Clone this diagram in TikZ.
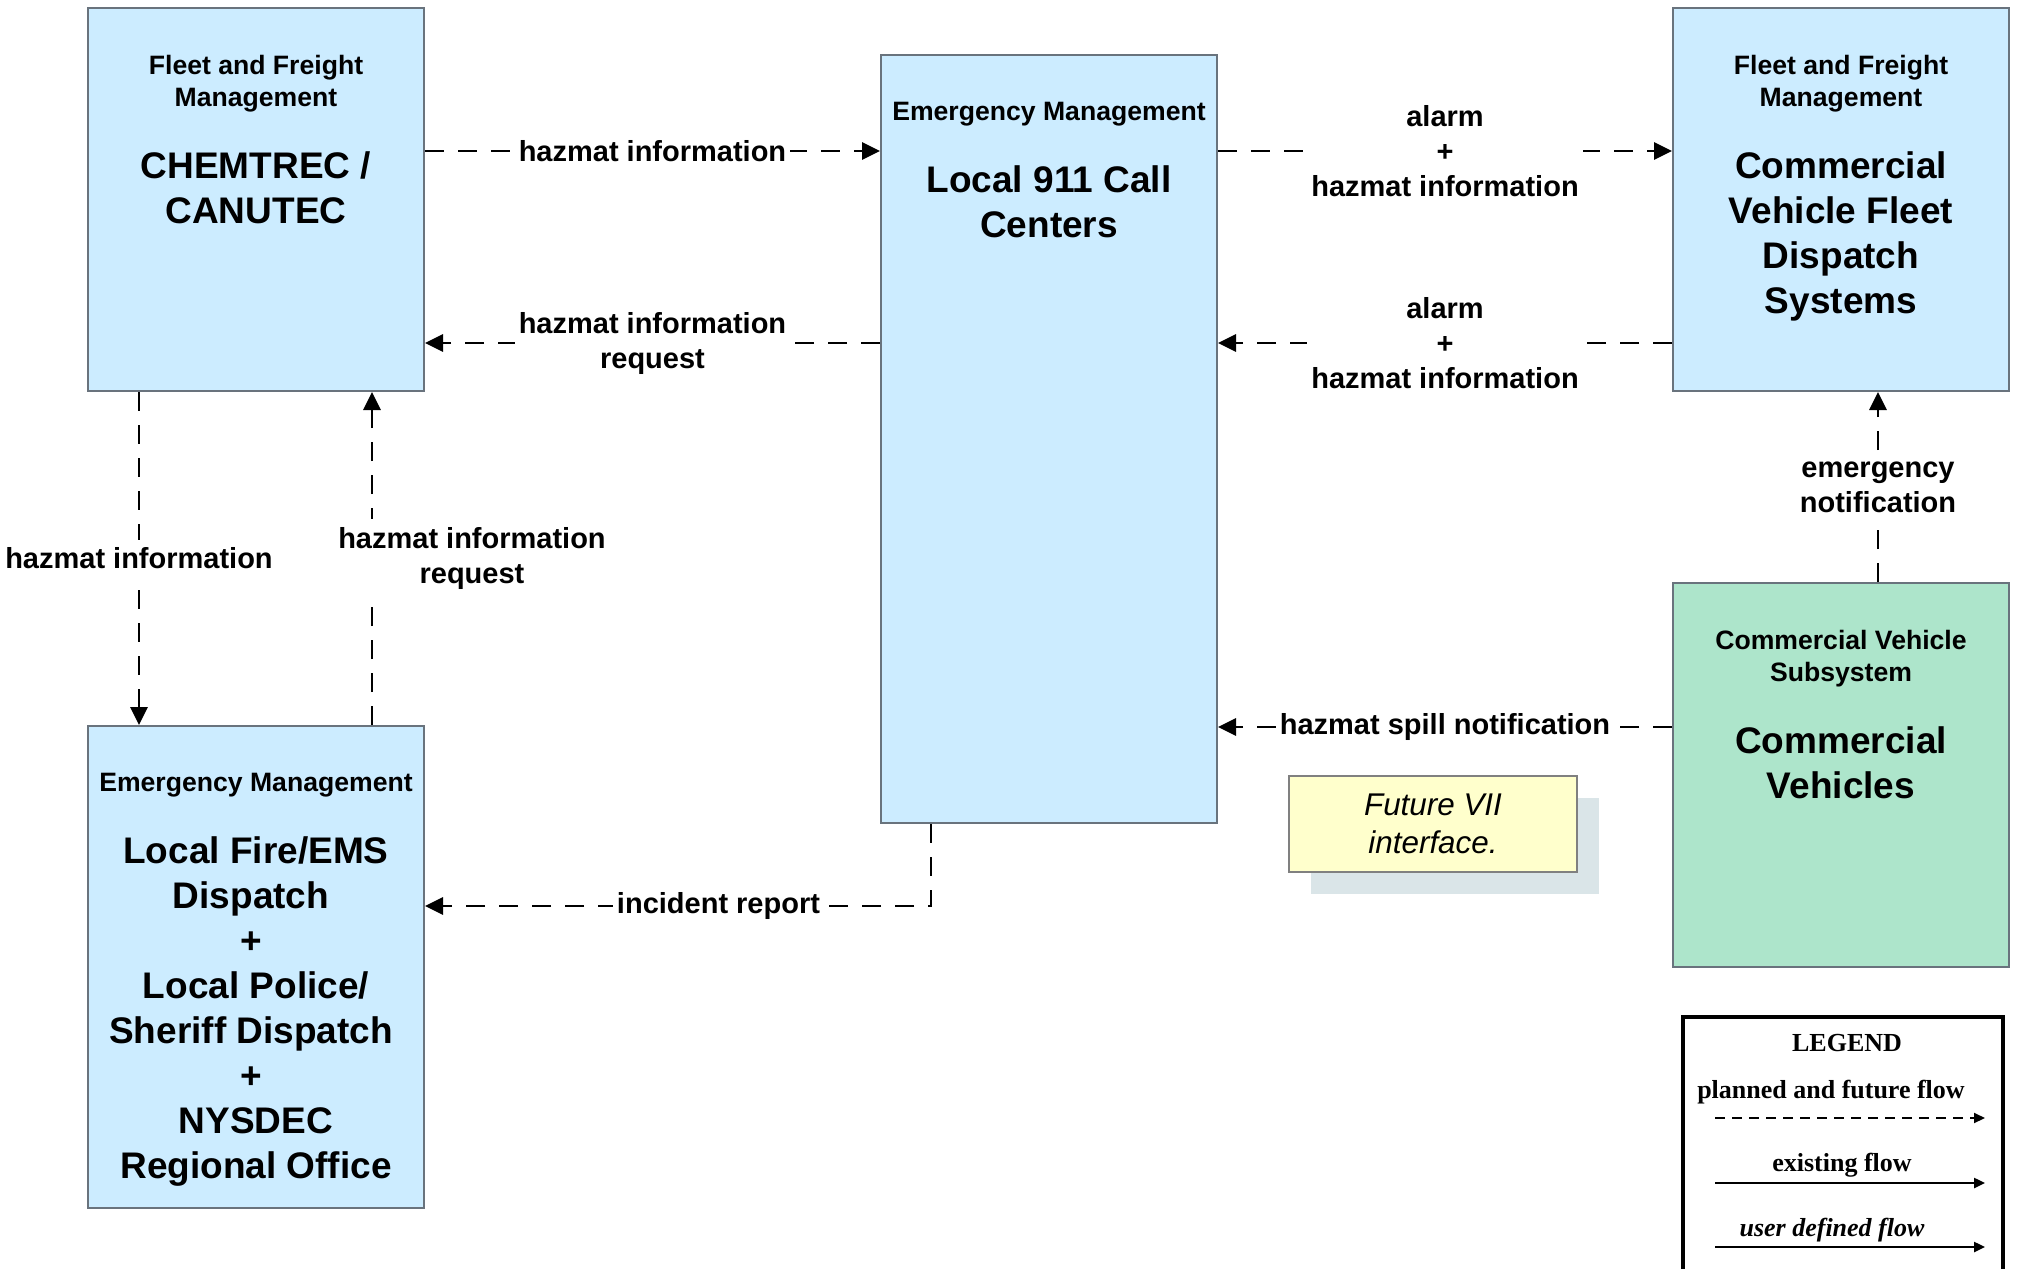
\documentclass[tikz,border=0pt]{standalone}
\usepackage{fontspec}
\setmainfont{Liberation Sans}
\newfontfamily\legendfont{Liberation Serif}
\usetikzlibrary{arrows.meta}
\usetikzlibrary{positioning}
\definecolor{boxblue}{RGB}{204,236,255}
\definecolor{boxgreen}{RGB}{173,229,203}
\definecolor{boxline}{RGB}{105,115,125}
\definecolor{noteyellow}{RGB}{255,255,204}
\definecolor{noteshade}{RGB}{218,229,232}

\begin{document}
\begin{tikzpicture}[x=0.5pt, y=-0.5pt,
		sysbox/.style = {draw=boxline, line width=1pt, fill=boxblue, anchor=north west, inner sep=0pt, minimum width=168pt},
		hdr/.style = {anchor=north, align=center, inner sep=0pt, font=\fontsize{13.3}{16}\selectfont\bfseries},
		ttl/.style = {align=center, inner sep=0pt, font=\fontsize{18.5}{22.5}\selectfont\bfseries},
		flow/.style = {line width=1.4pt, dash pattern=on 9.5pt off 7pt, -{Triangle[length=9pt, width=8.5pt]}},
		lbl/.style = {fill=white, align=center, inner xsep=2pt, inner ysep=4pt, font=\fontsize{14.5}{17.5}\selectfont\bfseries},
		notebox/.style = {anchor=north west, minimum width=144pt, minimum height=48pt, inner sep=0pt},
		legtxt/.style = {inner sep=0pt, font=\legendfont\fontsize{13}{15}\selectfont\bfseries}]
		\useasboundingbox (0,0) rectangle (2020,1269);

		\node[sysbox, minimum height=191.5pt] (chem) at (87,7) {};
		\node[hdr] (chemhdr) at ([yshift=-24pt]chem.north) {Fleet and Freight\\Management};
		\node[ttl, below=19.5pt of chemhdr] (chemttl) {CHEMTREC /\\CANUTEC};

		\node[sysbox, minimum height=384pt] (call) at (880,54) {};
		\node[hdr] (callhdr) at ([yshift=-24pt]call.north) {Emergency Management};
		\node[ttl, below=19.5pt of callhdr] (callttl) {Local 911 Call\\Centers};

		\node[sysbox, minimum height=191.5pt] (fleet) at (1672,7) {};
		\node[hdr] (fleethdr) at ([yshift=-24pt]fleet.north) {Fleet and Freight\\Management};
		\node[ttl, below=19.5pt of fleethdr] (fleetttl) {Commercial\\Vehicle Fleet\\Dispatch\\Systems};

		\node[sysbox, fill=boxgreen, minimum height=192pt] (cveh) at (1672,582) {};
		\node[hdr] (cvehhdr) at ([yshift=-24pt]cveh.north) {Commercial Vehicle\\Subsystem};
		\node[ttl, below=19.5pt of cvehhdr] (cvehttl) {Commercial\\Vehicles};

		\node[sysbox, minimum height=241pt] (fire) at (87,725) {};
		\node[hdr] (firehdr) at ([yshift=-24pt]fire.north) {Emergency Management};
		\node[ttl, below=19.5pt of firehdr] (firettl) {Local Fire/EMS\\Dispatch\kern5pt\\+\kern5pt\\Local Police/\\Sheriff Dispatch\kern5pt\\+\kern5pt\\NYSDEC\\Regional Office};

		\node[notebox, fill=noteshade] (shade) at (1311,798) {};
		\node[notebox, draw=gray, line width=1pt, fill=noteyellow, align=center, font=\fontsize{15.7}{19}\selectfont\itshape] (note) at (1288,775) {Future VII\\interface.};

		\coordinate (rowA) at (0,151);
		\coordinate (rowB) at (0,343);
		\coordinate (rowC) at (0,727);
		\coordinate (rowD) at (0,906);
		\coordinate (colA) at (139,0);
		\coordinate (colB) at (372,0);
		\coordinate (colC) at (931,0);
		\coordinate (colD) at (1878,0);

		\draw[flow] (chem.east |- rowA) -- node[lbl] (hazinfo) {hazmat information} (call.west |- rowA);
		\draw[flow] (call.west |- rowB) -- node[lbl] (hazreq) {hazmat information\\request} (chem.east |- rowB);
		\draw[flow] (call.east |- rowA) -- node[lbl] (alarmout) {alarm\\+\\hazmat information} (fleet.west |- rowA);
		\draw[flow] (fleet.west |- rowB) -- node[lbl] (alarmin) {alarm\\+\\hazmat information} (call.east |- rowB);
		\draw[flow] (cveh.north -| colD) -- node[lbl] (emerg) {emergency\\notification} (fleet.south -| colD);
		\draw[flow] (cveh.west |- rowC) -- node[lbl] (spill) {hazmat spill notification} (call.east |- rowC);
		\draw[flow] (call.south -| colC) |- node[lbl, pos=0.71] (incid) {incident report} (fire.east |- rowD);
		\draw[flow] (chem.south -| colA) -- node[lbl] (hazdown) {hazmat information} (fire.north -| colA);
		\draw[flow] (fire.north -| colB) -- node[lbl, xshift=50pt] (hazup) {hazmat information\\request} (chem.south -| colB);

		\draw[line width=1.6pt] (1683,1269) |- (2003,1017) -- (2003,1269);
		\node[legtxt] (legtitle) at (1847,1043) {LEGEND};
		\node[legtxt] (legplan) at (1831,1092) {planned and future flow};
		\node[legtxt] (legexist) at (1842,1165) {existing flow};
		\node[legtxt, font=\legendfont\fontsize{13}{15}\selectfont\bfseries\itshape] (leguser) at (1832,1230) {user defined flow};
		\coordinate (planL) at (1715,1118);
		\coordinate (planR) at (1985,1118);
		\coordinate (existL) at (1715,1183);
		\coordinate (existR) at (1985,1183);
		\coordinate (userL) at (1715,1247);
		\coordinate (userR) at (1985,1247);
		\draw[line width=1pt, dash pattern=on 5pt off 3.5pt, -{Triangle[length=5.5pt, width=5pt]}] (planL) -- (planR);
		\draw[line width=1.2pt, -{Triangle[length=5.5pt, width=5pt]}] (existL) -- (existR);
		\draw[line width=1.2pt, -{Triangle[length=5.5pt, width=5pt]}] (userL) -- (userR);
\end{tikzpicture}
\end{document}
